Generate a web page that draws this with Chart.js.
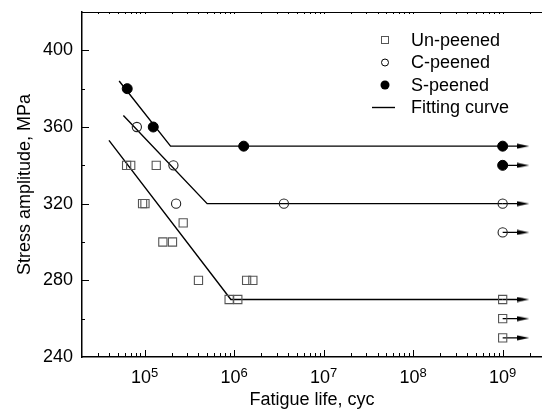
<!DOCTYPE html>
<html>
<head>
<meta charset="utf-8">
<script src="https://cdn.jsdelivr.net/npm/chart.js@4/dist/chart.umd.min.js"></script>
<style>
  html, body { margin: 0; padding: 0; background: #fff; }
  #wrap { width: 542px; height: 409px; position: relative; }
</style>
</head>
<body>
<div id="wrap"><canvas id="sn"></canvas></div>
<script>
// fatigue data (life in cycles, stress in MPa)
const unLife = [6.3e4, 7.0e4, 9.5e4, 1.01e5, 1.35e5, 1.6e5, 2.05e5, 2.7e5, 4.0e5, 8.8e5, 1.1e6, 1.38e6, 1.62e6];
const unStress = [340, 340, 320, 320, 340, 300, 300, 310, 280, 270, 270, 280, 280];
const cLife = [8.2e4, 2.1e5, 2.25e5, 3.6e6];
const cStress = [360, 340, 320, 320];
const sLife = [6.4e4, 1.25e5, 1.28e6];
const sStress = [380, 360, 350];

// run-outs at 1e9 cycles
const runoutLife = 1e9;
const unRunouts = [270, 260, 250];
const cRunouts = [320, 305];
const sRunouts = [350, 340];
const arrowEnd = 1.7e9;

// fitting curves (knee points)
const fitUnLife = [4.0e4, 9.2e5, 1e9];
const fitUnStress = [353, 270, 270];
const fitCLife = [5.8e4, 5.0e5, 1e9];
const fitCStress = [366, 320, 320];
const fitSLife = [5.2e4, 1.95e5, 1e9];
const fitSStress = [384, 350, 350];

const yTicks = [240, 280, 320, 360, 400];
const xDecades = [5, 6, 7, 8, 9];

const FONT = "'Liberation Sans', Arial, sans-serif";

function pts(xs, ys) {
  return xs.map((x, i) => ({ x: x, y: ys[i] }));
}
function runouts(vals) {
  return vals.map(v => ({ x: runoutLife, y: v }));
}
function arrows(vals) {
  let out = [];
  vals.forEach(v => {
    out.push({ x: runoutLife, y: v }, { x: arrowEnd, y: v }, { x: arrowEnd, y: null });
  });
  return out;
}

// arrow head used as point style
const head = document.createElement('canvas');
head.width = 12;
head.height = 6;
const hctx = head.getContext('2d');
hctx.fillStyle = '#000';
hctx.beginPath();
hctx.moveTo(0, 0.6);
hctx.lineTo(12, 3);
hctx.lineTo(0, 5.4);
hctx.closePath();
hctx.fill();

function fitLine(xs, ys) {
  return {
    type: 'line', data: pts(xs, ys), borderColor: '#000', borderWidth: 1.4,
    pointRadius: 0, fill: false, tension: 0, order: 3
  };
}

const allArrows = [].concat(arrows(unRunouts), arrows(cRunouts), arrows(sRunouts));

// ticks, top border, x labels
const frame = {
  id: 'frame',
  afterDraw(chart) {
    const ctx = chart.ctx;
    const x = chart.scales.x, y = chart.scales.y;
    const a = chart.chartArea;
    ctx.save();
    ctx.strokeStyle = '#000';
    ctx.lineWidth = 1;
    ctx.beginPath();
    ctx.moveTo(a.left, a.top + 0.5);
    ctx.lineTo(a.right, a.top + 0.5);
    for (let e = 4; e <= 9; e++) {
      for (let m = 1; m <= 9; m++) {
        const v = m * Math.pow(10, e);
        if (v <= x.min || v >= x.max) continue;
        const px = Math.round(x.getPixelForValue(v)) + 0.5;
        const len = m === 1 ? 7 : 4;
        ctx.moveTo(px, a.bottom);
        ctx.lineTo(px, a.bottom - len);
        ctx.moveTo(px, a.top);
        ctx.lineTo(px, a.top + 2);
      }
    }
    for (let v = 260; v < 420; v += 20) {
      const py = Math.round(y.getPixelForValue(v)) + 0.5;
      const len = v % 40 === 0 ? 7 : 3;
      ctx.moveTo(a.left, py);
      ctx.lineTo(a.left + len, py);
    }
    ctx.stroke();

    ctx.fillStyle = '#000';
    ctx.textBaseline = 'alphabetic';
    ctx.textAlign = 'left';
    xDecades.forEach(e => {
      const px = x.getPixelForValue(Math.pow(10, e));
      ctx.font = '18px ' + FONT;
      const w1 = ctx.measureText('10').width;
      ctx.font = '13px ' + FONT;
      const w2 = ctx.measureText(String(e)).width;
      const left = px - (w1 + w2) / 2;
      ctx.font = '18px ' + FONT;
      ctx.fillText('10', left, a.bottom + 26);
      ctx.font = '13px ' + FONT;
      ctx.fillText(String(e), left + w1, a.bottom + 20);
    });
    ctx.restore();
  }
};

// legend drawn inside the plot area
const legendBox = {
  id: 'legendBox',
  afterDraw(chart) {
    const ctx = chart.ctx;
    const names = ['Un-peened', 'C-peened', 'S-peened', 'Fitting curve'];
    const sx = 385, tx = 411, y0 = 40, dy = 22.5;
    ctx.save();
    ctx.font = '18px ' + FONT;
    ctx.fillStyle = '#000';
    ctx.textBaseline = 'middle';
    names.forEach((n, i) => ctx.fillText(n, tx, y0 + i * dy + 1));
    ctx.lineWidth = 1;
    ctx.strokeStyle = '#555';
    ctx.strokeRect(381.5, y0 - 3.5, 7, 7);
    ctx.strokeStyle = '#000';
    ctx.beginPath();
    ctx.arc(sx, y0 + dy, 3.5, 0, Math.PI * 2);
    ctx.stroke();
    ctx.beginPath();
    ctx.arc(sx, y0 + 2 * dy, 4.5, 0, Math.PI * 2);
    ctx.fill();
    ctx.lineWidth = 1.4;
    ctx.beginPath();
    ctx.moveTo(372, y0 + 3 * dy);
    ctx.lineTo(395, y0 + 3 * dy);
    ctx.stroke();
    ctx.restore();
  }
};

new Chart(document.getElementById('sn'), {
  type: 'scatter',
  data: {
    datasets: [
      fitLine(fitUnLife, fitUnStress),
      fitLine(fitCLife, fitCStress),
      fitLine(fitSLife, fitSStress),
      {
        type: 'line', data: allArrows, borderColor: '#000', borderWidth: 1.4,
        spanGaps: false, tension: 0, order: 3,
        pointStyle: head, pointRotation: 0,
        pointRadius: c => (c.index % 3 === 1 ? 6 : 0)
      },
      {
        label: 'Un-peened', data: pts(unLife, unStress).concat(runouts(unRunouts)),
        pointStyle: 'rect', pointRadius: 5.8, borderColor: '#555', borderWidth: 1.1,
        backgroundColor: 'rgba(0,0,0,0)', order: 1
      },
      {
        label: 'C-peened', data: pts(cLife, cStress).concat(runouts(cRunouts)),
        pointStyle: 'circle', pointRadius: 4.6, borderColor: '#222', borderWidth: 1.1,
        backgroundColor: 'rgba(0,0,0,0)', order: 1
      },
      {
        label: 'S-peened', data: pts(sLife, sStress).concat(runouts(sRunouts)),
        pointStyle: 'circle', pointRadius: 5, borderColor: '#000', borderWidth: 1,
        backgroundColor: '#000', order: 1
      }
    ]
  },
  options: {
    responsive: true,
    maintainAspectRatio: false,
    animation: false,
    layout: { autoPadding: false, padding: { top: 12, left: 0, right: 0, bottom: 0 } },
    plugins: { legend: { display: false }, tooltip: { enabled: false } },
    scales: {
      x: {
        type: 'logarithmic', min: 2e4, max: 2.75e9,
        grid: { display: false, drawTicks: false },
        border: { display: true, color: '#000', width: 1.5 },
        ticks: { display: false },
        title: {
          display: true, text: 'Fatigue life, cyc', color: '#000',
          font: { family: FONT, size: 18, lineHeight: 1 }, padding: { top: 0, bottom: 0 }
        },
        afterFit: s => { s.height = 52; s.paddingLeft = 0; s.paddingRight = 0; }
      },
      y: {
        min: 240, max: 420,
        grid: { display: false, drawTicks: false },
        border: { display: true, color: '#000', width: 1.5 },
        afterBuildTicks: s => { s.ticks = yTicks.map(v => ({ value: v })); },
        ticks: { color: '#000', padding: 9, font: { family: FONT, size: 18 } },
        title: {
          display: true, text: 'Stress amplitude, MPa', color: '#000',
          font: { family: FONT, size: 18, lineHeight: 1 }, padding: { top: 16, bottom: 0 }
        },
        afterFit: s => { s.width = 82; s.paddingTop = 0; s.paddingBottom = 0; }
      }
    }
  },
  plugins: [frame, legendBox]
});
</script>
</body>
</html>
